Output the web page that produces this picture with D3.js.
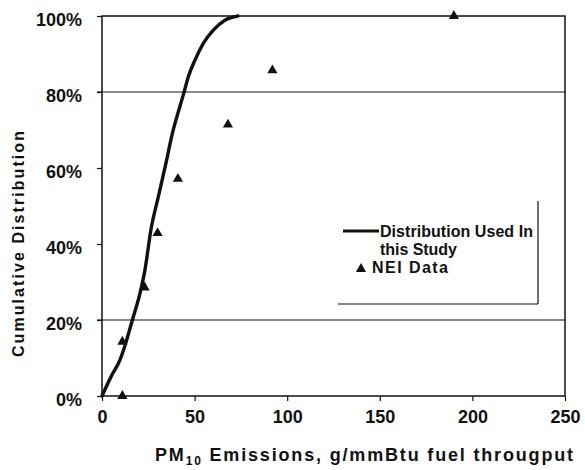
<!DOCTYPE html>
<html>
<head>
<meta charset="utf-8">
<script src="https://cdn.jsdelivr.net/npm/d3@7"></script>
<style>
  html, body { margin: 0; padding: 0; background: #fff; }
  svg { display: block; }
  text { font-family: "Liberation Sans", Arial, sans-serif; fill: #111; font-weight: bold; }
</style>
</head>
<body>
<svg id="chart" width="585" height="470"></svg>
<script>
// ---- data ----
const curveX = [0, 4.9, 9.7, 12.8, 16.4, 20.5, 23.2, 26.4, 30.4, 34.5, 37.8, 44.4, 46.6, 50.2, 54.7, 60.1, 66.4, 73.4];
const curveY = [0, 5.1, 9.5, 13.9, 20, 27, 33.2, 43.7, 52.4, 61.2, 68.7, 80.1, 84, 88.4, 92.8, 96.3, 98.9, 100];
const neiX = [11, 11, 23, 30, 41, 68, 92, 190];
const neiY = [0, 14.29, 28.57, 42.86, 57.14, 71.43, 85.71, 100];
const xTicks = [0, 50, 100, 150, 200, 250];
const yTicks = [0, 20, 40, 60, 80, 100];
const gridY = [20, 80];
const legendLabels = ["Distribution Used In", "this Study", "NEI Data"];

// ---- layout ----
const svg = d3.select("#chart");
const L = 102, R = 565, T = 16, B = 396;
const x = d3.scaleLinear().domain([0, 250]).range([L, R]);
const y = d3.scaleLinear().domain([0, 100]).range([B, T]);
const ink = "#111";

function fit(sel, target) {
  const node = sel.node();
  const w = node.getComputedTextLength();
  const n = node.textContent.length;
  if (n > 1) sel.attr("letter-spacing", ((target - w) / (n - 1)).toFixed(2));
  return sel;
}

// gridlines
svg.append("g").selectAll("line").data(gridY).join("line")
  .attr("x1", L - 5).attr("x2", R)
  .attr("y1", d => y(d)).attr("y2", d => y(d))
  .attr("stroke", ink).attr("stroke-width", 1.2);

// axes
const xAxis = svg.append("g").attr("transform", `translate(0,${B})`)
  .call(d3.axisBottom(x).tickValues(xTicks).tickSize(5).tickPadding(9).tickFormat(d3.format("d")));
const yAxis = svg.append("g").attr("transform", `translate(${L},0)`)
  .call(d3.axisLeft(y).tickValues(yTicks).tickSize(5).tickPadding(15).tickFormat(d => d + "%"));
[xAxis, yAxis].forEach(g => {
  g.select(".domain").remove();
  g.selectAll("line").attr("stroke", ink).attr("stroke-width", 1.2);
  g.selectAll("text").attr("font-size", 18).attr("fill", ink)
    .style("font-family", "'Liberation Sans', Arial, sans-serif")
    .style("font-weight", "bold");
});
yAxis.selectAll("text").attr("dy", "0.55em");

// plot box
svg.append("rect").attr("x", L).attr("y", T).attr("width", R - L).attr("height", B - T)
  .attr("fill", "none").attr("stroke", ink).attr("stroke-width", 1.5);

// curve
const curvePts = curveX.map((d, i) => [d, curveY[i]]);
svg.append("path").datum(curvePts)
  .attr("d", d3.line().x(d => x(d[0])).y(d => y(d[1])).curve(d3.curveMonotoneX))
  .attr("fill", "none").attr("stroke", ink).attr("stroke-width", 3.4)
  .attr("stroke-linecap", "round");

// NEI triangles
const tri = d3.symbol().type(d3.symbolTriangle).size(45);
svg.append("g").selectAll("path").data(neiX.map((d, i) => [d, neiY[i]])).join("path")
  .attr("d", tri)
  .attr("transform", d => `translate(${x(d[0])},${y(d[1])})`)
  .attr("fill", ink);

// legend (only right and bottom border visible)
const lg = svg.append("g");
lg.append("line").attr("x1", 538).attr("x2", 538).attr("y1", 201).attr("y2", 304)
  .attr("stroke", ink).attr("stroke-width", 1.2);
lg.append("line").attr("x1", 338).attr("x2", 538).attr("y1", 304).attr("y2", 304)
  .attr("stroke", ink).attr("stroke-width", 1.2);
lg.append("line").attr("x1", 343).attr("x2", 379).attr("y1", 231).attr("y2", 231)
  .attr("stroke", ink).attr("stroke-width", 3);
fit(lg.append("text").attr("x", 380).attr("y", 237).attr("font-size", 16).text(legendLabels[0]), 153);
fit(lg.append("text").attr("x", 380).attr("y", 255).attr("font-size", 16).text(legendLabels[1]), 77);
lg.append("path").attr("d", tri).attr("transform", "translate(361,269)").attr("fill", ink);
fit(lg.append("text").attr("x", 372).attr("y", 273).attr("font-size", 16).text(legendLabels[2]), 76);

// axis titles
const xt = svg.append("text").attr("x", 155).attr("y", 461).attr("font-size", 18);
xt.append("tspan").text("PM");
xt.append("tspan").attr("font-size", 12).attr("dy", 4).text("10");
xt.append("tspan").attr("dy", -4).text(" Emissions, g/mmBtu fuel througput");
{
  const w = xt.node().getComputedTextLength();
  const n = xt.node().textContent.length;
  xt.attr("letter-spacing", ((418 - w) / (n - 1)).toFixed(2));
}

const yt = svg.append("text")
  .attr("transform", `translate(24,243) rotate(-90)`)
  .attr("text-anchor", "middle").attr("font-size", 16)
  .text("Cumulative Distribution");
fit(yt, 226);
</script>
</body>
</html>
